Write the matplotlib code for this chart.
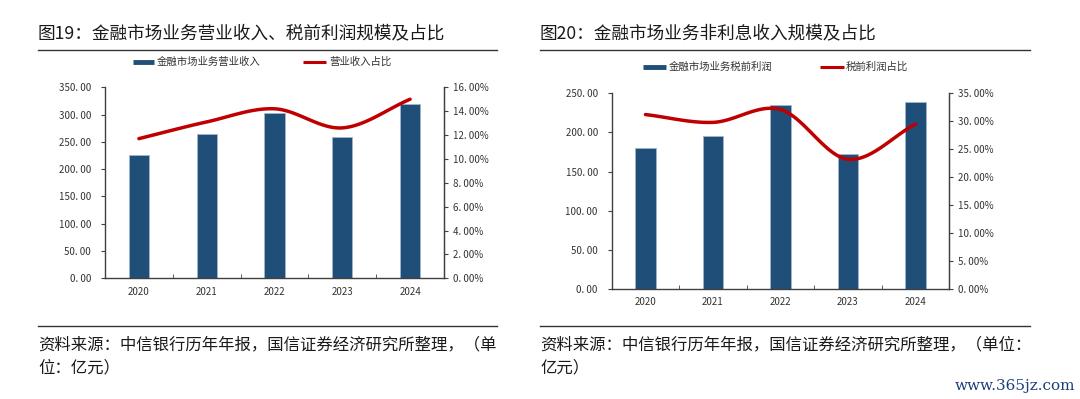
import numpy as np
import matplotlib
matplotlib.use("Agg")
import matplotlib.pyplot as plt
from matplotlib.ticker import FixedLocator

plt.rcParams['font.family'] = ['Noto Sans CJK SC', 'DejaVu Sans']

years = ["2020", "2021", "2022", "2023", "2024"]
# Chart 19
revenue = [226, 264, 302, 259.5, 319]
revenue_share = [11.7, 13.1, 14.2, 12.6, 15.0]
# Chart 20
profit = [180.5, 195, 234.5, 173, 239]
profit_share = [31.2, 29.8, 32.1, 23.2, 29.5]

left_ticks = [0, 50, 100, 150, 200, 250, 300, 350]
left_pct_ticks = [0, 2, 4, 6, 8, 10, 12, 14, 16]
right_ticks = [0, 50, 100, 150, 200, 250]
right_pct_ticks = [0, 5, 10, 15, 20, 25, 30, 35]

BAR = '#1f4e79'
LINE = '#c00000'
AX = '#404040'


def smooth(x, y, n=30):
    # Catmull-Rom style smoothing (like Excel smoothed lines)
    x = np.asarray(x, float); y = np.asarray(y, float)
    px = np.concatenate([[2 * x[0] - x[1]], x, [2 * x[-1] - x[-2]]])
    py = np.concatenate([[2 * y[0] - y[1]], y, [2 * y[-1] - y[-2]]])
    xs, ys = [], []
    for i in range(1, len(px) - 2):
        t = np.linspace(0, 1, n)
        for arr, out in ((px, xs), (py, ys)):
            p0, p1, p2, p3 = arr[i - 1], arr[i], arr[i + 1], arr[i + 2]
            c1 = p1 + (p2 - p0) / 6
            c2 = p2 - (p3 - p1) / 6
            out.extend((1 - t) ** 3 * p1 + 3 * (1 - t) ** 2 * t * c1 + 3 * (1 - t) * t ** 2 * c2 + t ** 3 * p2)
    return np.array(xs), np.array(ys)


fig = plt.figure(figsize=(10.8, 3.99), dpi=100)


def panel(rect, bars, line, yticks, pticks):
    ax = fig.add_axes(rect)
    x = np.arange(len(years))
    ax.bar(x, bars, width=0.3, color=BAR, edgecolor='#9fb6cc', linewidth=0.6, zorder=2)
    ax.set_xlim(-0.5, len(years) - 0.5)
    ax.set_ylim(yticks[0], yticks[-1])
    ax.set_yticks(yticks)
    ax.set_yticklabels([f"{v:.2f}".replace('.', '. ') for v in yticks])
    ax.set_xticks(x)
    ax.set_xticklabels(years)
    ax.xaxis.set_minor_locator(FixedLocator(np.arange(-0.5, len(years), 1.0)))
    ax.tick_params(axis='x', which='major', length=0, labelsize=7, colors='#333333', pad=6)
    ax.tick_params(axis='x', which='minor', length=3, direction='in', color=AX)
    ax.tick_params(axis='y', length=3, labelsize=7, colors='#333333', pad=7)
    ax.tick_params(axis='y', color=AX)
    ax.spines['top'].set_visible(False)
    for s in ['left', 'bottom', 'right']:
        ax.spines[s].set_color(AX)
        ax.spines[s].set_linewidth(1.0)
    ax2 = ax.twinx()
    sx, sy = smooth(x, line)
    ax2.plot(sx, sy, color=LINE, lw=2.5, solid_capstyle='round', zorder=3)
    ax2.set_ylim(pticks[0], pticks[-1])
    ax2.set_yticks(pticks)
    ax2.set_yticklabels([f"{v:.2f}".replace('.', '. ') + "%" for v in pticks])
    ax2.tick_params(axis='y', length=3, labelsize=7, colors='#333333', color=AX, pad=3.5)
    ax2.spines['top'].set_visible(False)
    ax2.spines['right'].set_color(AX)
    ax2.spines['left'].set_visible(False)
    ax2.spines['bottom'].set_visible(False)
    return ax, ax2


# Left panel
panel([105 / 1080, 1 - 278.3 / 399, 339 / 1080, 191 / 399], revenue, revenue_share,
      left_ticks, left_pct_ticks)
# Right panel
panel([611.7 / 1080, 1 - 289 / 399, 337.6 / 1080, 195.7 / 399], profit, profit_share,
      right_ticks, right_pct_ticks)


def fx(px):
    return px / 1080


def fy(py):
    return 1 - py / 399


# Titles
fig.text(fx(38), fy(33), "图19：金融市场业务营业收入、税前利润规模及占比", fontsize=12.7, fontweight='medium',
         color='#1a1a1a', va='center', ha='left')
fig.text(fx(540), fy(33), "图20：金融市场业务非利息收入规模及占比", fontsize=12.7, fontweight='medium',
         color='#1a1a1a', va='center', ha='left')

# Title lines and bottom lines
for (x0, x1) in [(38, 497), (540, 1030)]:
    fig.add_artist(plt.Line2D([fx(x0), fx(x1)], [fy(49.5), fy(49.5)], color='#333333', lw=1.0))
    fig.add_artist(plt.Line2D([fx(x0), fx(x1)], [fy(325.7), fy(325.7)], color='#333333', lw=1.0))


# Legends
def legend_items(patch_x0, patch_x1, text1_x, line_x0, line_x1, text2_x, t1, t2, y=62):
    fig.add_artist(plt.Line2D([fx(patch_x0), fx(patch_x1)], [fy(y), fy(y)], color=BAR, lw=3.5,
                              solid_capstyle='butt'))
    fig.text(fx(text1_x), fy(y), t1, fontsize=7.5, color='#333333', va='center', ha='left')
    fig.add_artist(plt.Line2D([fx(line_x0), fx(line_x1)], [fy(y), fy(y)], color=LINE, lw=2.2,
                              solid_capstyle='butt'))
    fig.text(fx(text2_x), fy(y), t2, fontsize=7.5, color='#333333', va='center', ha='left')


legend_items(133, 154, 157, 303, 326, 329, "金融市场业务营业收入", "营业收入占比", y=62)
legend_items(643, 666, 669, 820, 844, 846, "金融市场业务税前利润", "税前利润占比", y=67)

# Source notes
fig.text(fx(38), fy(345), "资料来源：中信银行历年年报，国信证券经济研究所整理，（单", fontsize=11.8,
         color='#1a1a1a', va='center', ha='left')
fig.text(fx(38), fy(368), "位：亿元）", fontsize=11.8, color='#1a1a1a', va='center', ha='left')
fig.text(fx(540), fy(345), "资料来源：中信银行历年年报，国信证券经济研究所整理，（单位：", fontsize=11.8,
         color='#1a1a1a', va='center', ha='left')
fig.text(fx(540), fy(368), "亿元）", fontsize=11.8, color='#1a1a1a', va='center', ha='left')

# Watermark
fig.text(fx(1075), fy(386), "www.365jz.com", fontsize=11, color='#1c3f7a', va='center', ha='right',
         family=['DejaVu Serif'])

fig.savefig("out.png", dpi=100, facecolor='white')
